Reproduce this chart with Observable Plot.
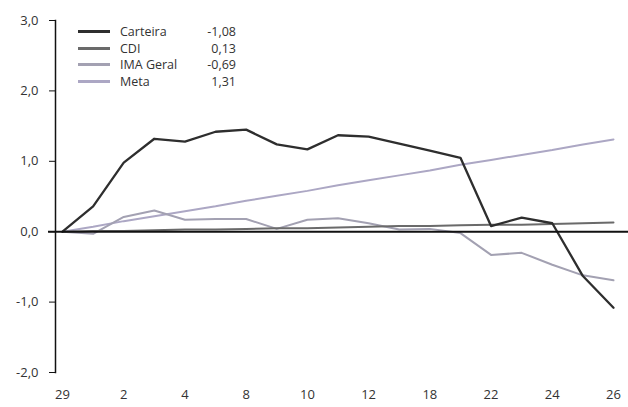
<!DOCTYPE html>
<html>
<head>
<meta charset="utf-8">
<script src="https://cdn.jsdelivr.net/npm/d3@7"></script>
<script src="https://cdn.jsdelivr.net/npm/@observablehq/plot@0.6"></script>
<style>
  html, body { margin: 0; padding: 0; background: #fff; }
  #wrap { position: relative; width: 628px; height: 407px; font-family: "Open Sans", sans-serif; }
  #legend { position: absolute; left: 78px; top: 23px; font-size: 12.5px; color: #333; }
  .row { display: flex; align-items: center; height: 16.7px; }
  .sw { width: 32px; height: 3px; margin-right: 10px; }
  .nm { width: 80px; }
  .vl { width: 36px; text-align: right; }
</style>
</head>
<body>
<div id="wrap"><div id="legend"></div></div>
<script>
const days = ["29","1","2","3","4","5","8","9","10","11","12","15","18","19","22","23","24","25","26"];
const tickDays = ["29","2","4","8","10","12","18","22","24","26"];
const seriesNames = ["Carteira","CDI","IMA Geral","Meta"];
const seriesColors = ["#2e2e2e","#6a6a6a","#a3a1b2","#aca7c4"];
const carteira = [0,0.36,0.98,1.32,1.28,1.42,1.45,1.24,1.17,1.37,1.35,1.25,1.15,1.05,0.08,0.20,0.12,-0.63,-1.08];
const cdi = [0,0.01,0.01,0.02,0.03,0.03,0.04,0.05,0.05,0.06,0.07,0.08,0.08,0.09,0.10,0.10,0.11,0.12,0.13];
const imaGeral = [0,-0.03,0.21,0.30,0.17,0.18,0.18,0.04,0.17,0.19,0.12,0.03,0.04,-0.02,-0.33,-0.30,-0.47,-0.62,-0.69];
const meta = [0,0.07,0.15,0.22,0.29,0.36,0.44,0.51,0.58,0.66,0.73,0.80,0.87,0.95,1.02,1.09,1.16,1.24,1.31];
const yTicks = [-2,-1,0,1,2,3];

const seriesValues = [carteira, cdi, imaGeral, meta];
const data = [];
seriesNames.forEach((name, s) => {
  seriesValues[s].forEach((v, i) => data.push({series: name, day: days[i], value: v}));
});
const fmt = d => d.toFixed(1).replace(".", ",");
const fmt2 = d => d.toFixed(2).replace(".", ",");

const drawOrder = ["Meta","IMA Geral","CDI","Carteira"];
const marks = [
  Plot.frame({anchor: "left", stroke: "#111", strokeWidth: 1.5}),
  Plot.axisY({ticks: yTicks, tickFormat: fmt, tickSize: 6, tickPadding: 11, fontSize: 13, color: "#333", stroke: "#111", label: null}),
  Plot.axisX({ticks: tickDays, tickSize: 0, tickPadding: 17, fontSize: 13, color: "#333", label: null}),
];
drawOrder.forEach(name => {
  const idx = seriesNames.indexOf(name);
  marks.push(Plot.line(data.filter(d => d.series === name), {
    x: "day", y: "value", stroke: seriesColors[idx],
    strokeWidth: name === "Carteira" ? 2.3 : 2
  }));
});
marks.push(Plot.ruleY([0], {stroke: "#111", strokeWidth: 2, insetLeft: -7, insetRight: -15}));

const chart = Plot.plot({
  width: 628, height: 407,
  marginLeft: 55, marginRight: 15, marginTop: 20, marginBottom: 35,
  style: {fontFamily: "'Open Sans', sans-serif", background: "#fff"},
  x: {type: "point", domain: days, padding: 0, insetLeft: 7, round: false, label: null},
  y: {domain: [-2, 3], label: null},
  marks
});
document.getElementById("wrap").prepend(chart);

const legend = document.getElementById("legend");
seriesNames.forEach((name, s) => {
  const vals = seriesValues[s];
  const row = document.createElement("div");
  row.className = "row";
  row.innerHTML = `<div class="sw" style="background:${seriesColors[s]}"></div><div class="nm">${name}</div><div class="vl">${fmt2(vals[vals.length-1])}</div>`;
  legend.appendChild(row);
});
</script>
</body>
</html>
